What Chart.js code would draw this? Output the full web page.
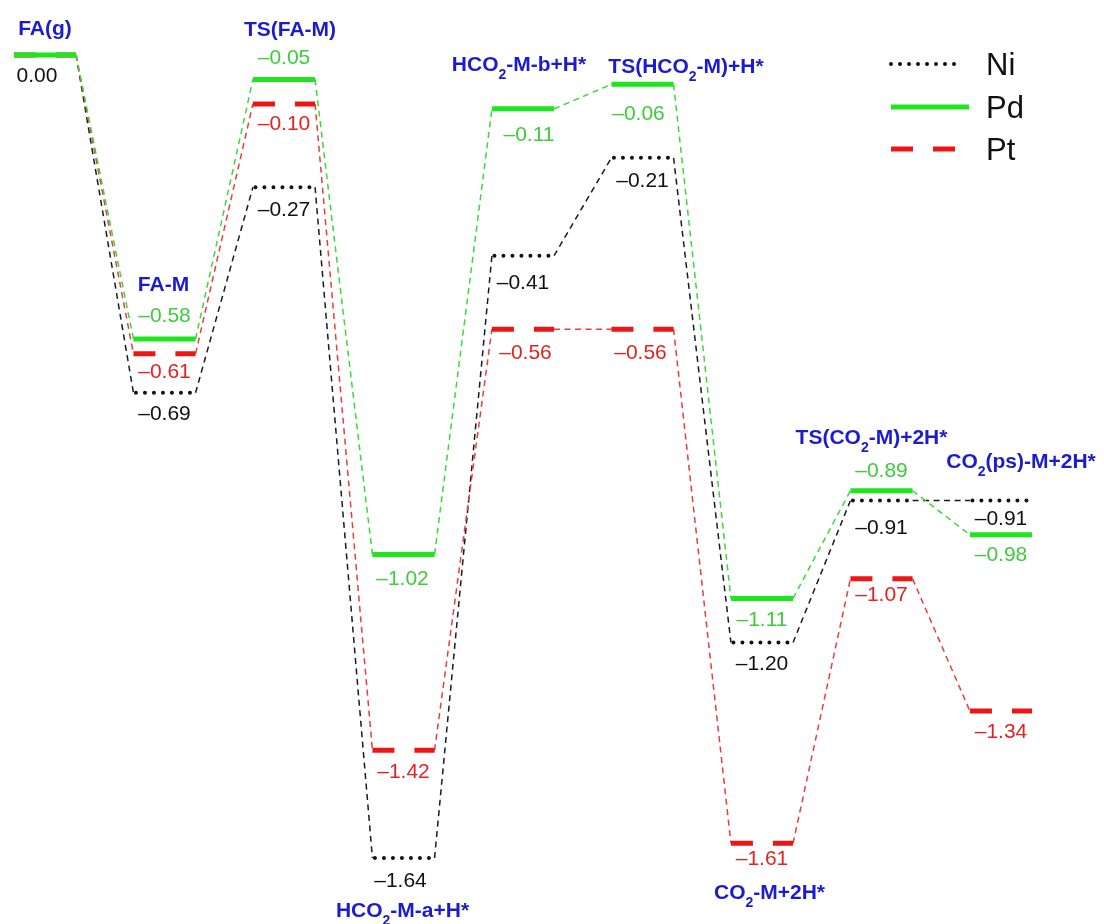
<!DOCTYPE html>
<html>
<head>
<meta charset="utf-8">
<script src="https://cdn.jsdelivr.net/npm/chart.js@4/dist/chart.umd.min.js"></script>
<style>
  html, body { margin: 0; padding: 0; background: #ffffff; }
  #wrap { width: 1104px; height: 924px; position: relative; }
</style>
</head>
<body>
<div id="wrap"><canvas id="profile"></canvas></div>
<script>
// Reaction states along the formic acid dehydrogenation path (M = metal surface)
const states = ['FA(g)', 'FA-M', 'TS(FA-M)', 'HCO_2-M-a+H*', 'HCO_2-M-b+H*',
                'TS(HCO_2-M)+H*', 'CO_2-M+2H*', 'TS(CO_2-M)+2H*', 'CO_2(ps)-M+2H*'];

// Relative energies (eV) for each metal
const niEnergy = [0.00, -0.69, -0.27, -1.64, -0.41, -0.21, -1.20, -0.91, -0.91];
const pdEnergy = [0.00, -0.58, -0.05, -1.02, -0.11, -0.06, -1.11, -0.89, -0.98];
const ptEnergy = [0.00, -0.61, -0.10, -1.42, -0.56, -0.56, -1.61, -1.07, -1.34];

const seriesNames = ['Ni', 'Pd', 'Pt'];

// ---- layout and styling ----
const FONT = '"Liberation Sans", Arial, Helvetica, sans-serif';
const HALF = 0.26;                 // half width of an energy level (in state units)
const X_RANGE = [-0.3766, 8.862];
const Y_RANGE = [-1.7749, 0.1123];

const style = {
  Ni: { line: '#111111', text: '#111111', link: '#1a1a1a', width: 4, dash: [0, 9], dashOffset: -2.5, cap: 'round' },
  Pd: { line: '#1ee61e', text: '#3ccc3c', link: '#3ad83a', width: 5, dash: [], dashOffset: 0, cap: 'butt' },
  Pt: { line: '#ee1515', text: '#e52222', link: '#ee3a3a', width: 5, dash: [22, 20], dashOffset: 0, cap: 'butt' }
};

// vertical offset (px) of each value label from its level; null = not shown
const valueLabelDy = {
  Ni: [19, 19.5, 21, 22, 25.5, 22, 19.5, 26, 16.5],
  Pd: [null, -24, -22.5, 23.5, 25, 28, 20, -21, 19],
  Pt: [null, 17, 19, 20, 22.5, 22.5, 14, 15, 19.5]
};
const valueLabelDx = {
  Ni: [-8, 0, 0, -3, 0, 0, 0, 0, 0],
  Pd: [0, 0, 0, -1, 6, -4, 0, 0, 0],
  Pt: [0, 0, 0, 0, 2.5, -2, 0, 0, 0]
};
// state name placement: anchor to top/bottom level, offsets in px
const stateLabelPos = [
  { anchor: 'top', dx: 0, dy: -28 },
  { anchor: 'top', dx: -1, dy: -55 },
  { anchor: 'top', dx: 6, dy: -51 },
  { anchor: 'bottom', dx: -1, dy: 52 },
  { anchor: 'top', dx: -4, dy: -45 },
  { anchor: 'top', dx: 43.5, dy: -19 },
  { anchor: 'bottom', dx: 7.5, dy: 48.5 },
  { anchor: 'top', dx: -10, dy: -54 },
  { anchor: 'top', dx: 20, dy: -40 }
];

const energies = { Ni: niEnergy, Pd: pdEnergy, Pt: ptEnergy };

function levelPoints(vals) {
  const pts = [];
  vals.forEach((v, i) => {
    pts.push({ x: i - HALF, y: v }, { x: i + HALF, y: v });
    if (i < vals.length - 1) pts.push({ x: i + 0.5, y: null });
  });
  return pts;
}
function linkPoints(vals) {
  const pts = [];
  for (let i = 0; i < vals.length - 1; i++) {
    pts.push({ x: i + HALF, y: vals[i] }, { x: i + 1 - HALF, y: vals[i + 1] }, { x: i + 1 - HALF, y: null });
  }
  return pts;
}

const datasets = [];
// thick levels: Pd on top, then Pt, then Ni
['Pd', 'Pt', 'Ni'].forEach((name, k) => {
  const s = style[name];
  datasets.push({
    label: name, data: levelPoints(energies[name]), order: k,
    borderColor: s.line, borderWidth: s.width, borderDash: s.dash, borderDashOffset: s.dashOffset,
    borderCapStyle: s.cap,
    pointRadius: 0, spanGaps: false, tension: 0, fill: false
  });
});
// thin dashed connectors underneath
['Pd', 'Pt', 'Ni'].forEach((name, k) => {
  const s = style[name];
  datasets.push({
    label: name + ' path', data: linkPoints(energies[name]), order: 3 + k,
    borderColor: s.link, borderWidth: 1.5, borderDash: [6, 4.5], borderCapStyle: 'butt',
    pointRadius: 0, spanGaps: false, tension: 0, fill: false
  });
});

function parseRich(s) {
  const parts = [];
  let buf = '';
  for (let k = 0; k < s.length; k++) {
    if (s[k] === '_') {
      if (buf) parts.push({ t: buf, sub: false });
      buf = '';
      parts.push({ t: s[k + 1], sub: true });
      k++;
    } else buf += s[k];
  }
  if (buf) parts.push({ t: buf, sub: false });
  return parts;
}

function drawRich(ctx, text, cx, baseline, size, color) {
  const parts = parseRich(text);
  const mainFont = 'bold ' + size + 'px ' + FONT;
  const subFont = 'bold ' + Math.round(size * 0.68) + 'px ' + FONT;
  let total = 0;
  parts.forEach(p => { ctx.font = p.sub ? subFont : mainFont; p.w = ctx.measureText(p.t).width; total += p.w; });
  let x = cx - total / 2;
  ctx.fillStyle = color;
  ctx.textAlign = 'left';
  ctx.textBaseline = 'alphabetic';
  parts.forEach(p => {
    ctx.font = p.sub ? subFont : mainFont;
    ctx.fillText(p.t, x, p.sub ? baseline + 8 : baseline);
    x += p.w;
  });
}

function fmt(v) {
  return v === 0 ? '0.00' : '\u2013' + Math.abs(v).toFixed(2);
}

const annotate = {
  id: 'annotate',
  afterDatasetsDraw(chart) {
    const ctx = chart.ctx;
    const xs = chart.scales.x, ys = chart.scales.y;
    ctx.save();
    // value labels
    const vSize = 21;
    seriesNames.forEach(name => {
      energies[name].forEach((v, i) => {
        const dy = valueLabelDy[name][i];
        if (dy === null) return;
        const px = xs.getPixelForValue(i) + valueLabelDx[name][i];
        const py = ys.getPixelForValue(v) + dy;
        ctx.font = vSize + 'px ' + FONT;
        ctx.fillStyle = style[name].text;
        ctx.textAlign = 'center';
        ctx.textBaseline = 'alphabetic';
        ctx.fillText(fmt(v), px, py + vSize * 0.358);
      });
    });
    // state names
    const cSize = 21;
    states.forEach((name, i) => {
      const pos = stateLabelPos[i];
      const vals = seriesNames.map(n => energies[n][i]);
      const ref = pos.anchor === 'top' ? Math.max(...vals) : Math.min(...vals);
      const px = xs.getPixelForValue(i) + pos.dx;
      const py = ys.getPixelForValue(ref) + pos.dy;
      drawRich(ctx, name, px, py + cSize * 0.358, cSize, '#1c1ccf');
    });
    // legend
    const lx0 = 891, rows = [64, 107, 149];
    const lx1 = { Ni: 963, Pd: 969, Pt: 958 };
    seriesNames.forEach((name, k) => {
      const s = style[name];
      ctx.beginPath();
      ctx.strokeStyle = s.line;
      ctx.lineWidth = s.width;
      ctx.lineCap = s.cap;
      ctx.setLineDash(s.dash);
      ctx.moveTo(lx0, rows[k]);
      ctx.lineTo(lx1[name], rows[k]);
      ctx.stroke();
      ctx.setLineDash([]);
      ctx.font = '31px ' + FONT;
      ctx.fillStyle = '#111111';
      ctx.textAlign = 'left';
      ctx.textBaseline = 'alphabetic';
      ctx.fillText(name, 986, rows[k] + 31 * 0.358);
    });
    ctx.restore();
  }
};

new Chart(document.getElementById('profile'), {
  type: 'line',
  data: { datasets },
  options: {
    responsive: true,
    maintainAspectRatio: false,
    animation: false,
    layout: { padding: 0 },
    plugins: { legend: { display: false }, tooltip: { enabled: false } },
    scales: {
      x: { type: 'linear', display: false, min: X_RANGE[0], max: X_RANGE[1] },
      y: { type: 'linear', display: false, min: Y_RANGE[0], max: Y_RANGE[1] }
    }
  },
  plugins: [annotate]
});
</script>
</body>
</html>
